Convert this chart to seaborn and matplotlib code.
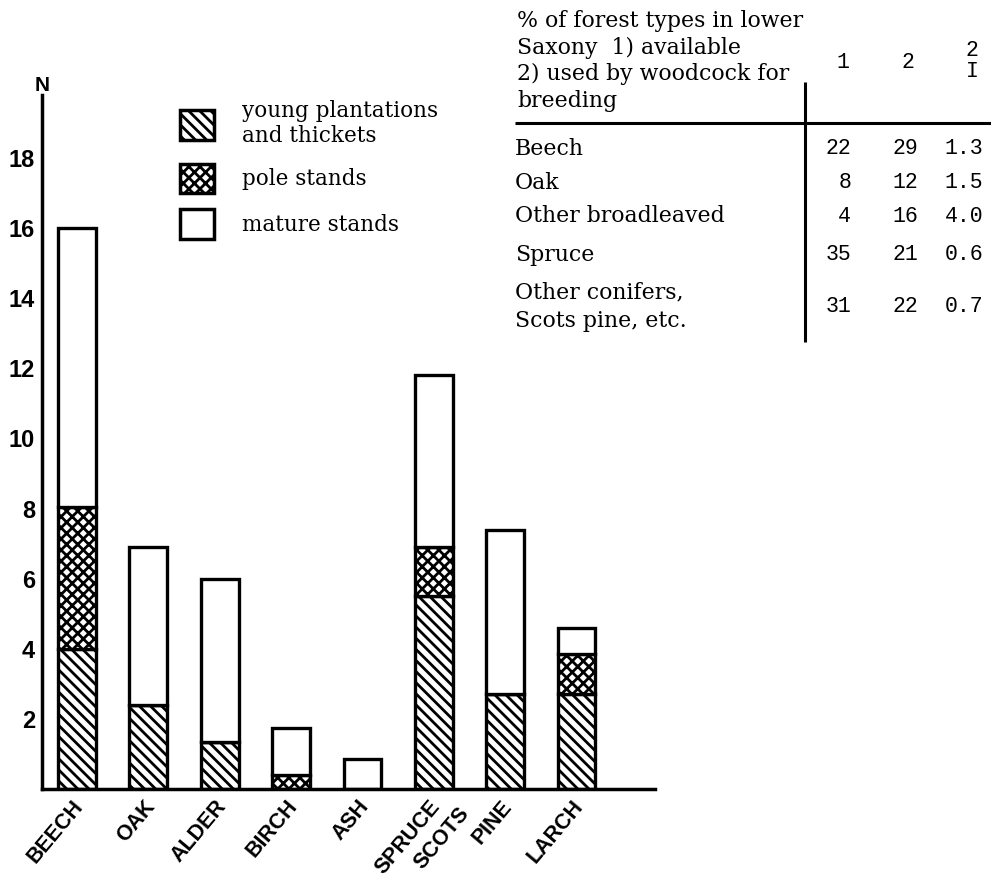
"""Woodcock breeding sites per forest type (stacked bars) with the Lower Saxony table."""

import matplotlib
matplotlib.use("Agg")
import matplotlib.pyplot as plt
import pandas as pd
import seaborn as sns
from matplotlib.patches import Patch
from matplotlib.transforms import ScaledTranslation

# --- data ---
species = ["BEECH", "OAK", "ALDER", "BIRCH", "ASH", "SPRUCE", "PINE", "LARCH"]
species_prefix = {"PINE": "SCOTS"}  # drawn as a second, lower word under the tick label
young = [4.0, 2.4, 1.35, 0.0, 0.0, 5.5, 2.7, 2.7]
pole = [4.05, 0.0, 0.0, 0.4, 0.0, 1.4, 0.0, 1.15]
mature = [7.95, 4.5, 4.65, 1.35, 0.85, 4.9, 4.7, 0.75]
y_ticks = [2, 4, 6, 8, 10, 12, 14, 16, 18]

stand_labels = ["young plantations\nand thickets", "pole stands", "mature stands"]
stand_hatches = ["\\\\\\", "xxx", ""]

table_title = "% of forest types in lower\nSaxony  1) available\n2) used by woodcock for\nbreeding"
forest_types = ["Beech", "Oak", "Other broadleaved", "Spruce", "Other conifers,\nScots pine, etc."]
available = [22, 8, 4, 35, 31]
used = [29, 12, 16, 21, 22]
ratio = [1.3, 1.5, 4.0, 0.6, 0.7]

# layout
label_dx = 2.2      # points
label_pad = 10      # points
label_rot = 50
label_size = 15.5
row_y = [149, 183, 216, 255, 307]   # table rows, pixels from top

sns.set_style("white")
plt.rcParams.update({
    "font.family": ["Liberation Sans", "DejaVu Sans"],
    "hatch.linewidth": 2.0,
    "text.color": "black",
    "axes.edgecolor": "black",
    "xtick.color": "black",
    "ytick.color": "black",
})

fig = plt.figure(figsize=(9.91, 8.83), dpi=100)

# table overlay, laid out in pixel coords (origin top-left)
tab = fig.add_axes([0, 0, 1, 1])
tab.set_xlim(0, 991)
tab.set_ylim(883, 0)
tab.axis("off")
tab.patch.set_alpha(0)

ax = fig.add_axes([42 / 991, 94 / 883, 613 / 991, 694 / 883])
ax.patch.set_alpha(0)

df = pd.DataFrame({"species": species, "young": young, "pole": pole, "mature": mature})
df["pole_base"] = df["young"]
df["mature_base"] = df["young"] + df["pole"]

bar_kw = dict(x="species", color="white", edgecolor="black", linewidth=2.4,
              width=0.53, saturation=1, errorbar=None, ax=ax)
sns.barplot(data=df, y="young", hatch=stand_hatches[0], **bar_kw)
sns.barplot(data=df, y="pole", bottom=df["pole_base"], hatch=stand_hatches[1], **bar_kw)
sns.barplot(data=df, y="mature", bottom=df["mature_base"], hatch=stand_hatches[2], **bar_kw)

ax.set_xlim(-0.49, 8.1)
ax.set_ylim(0, 19.8)
ax.set_xlabel("")
ax.set_ylabel("")
ax.set_yticks(y_ticks)
ax.tick_params(axis="y", direction="out", length=4, width=2, pad=1,
               labelsize=17)
ax.tick_params(axis="x", length=0, pad=label_pad, labelsize=label_size)
for lab in ax.get_yticklabels():
    lab.set_fontweight("bold")
shift = ScaledTranslation(label_dx / 72, 0, fig.dpi_scale_trans)
for lab in ax.get_xticklabels():
    lab.set_fontweight("bold")
    lab.set_rotation(label_rot)
    lab.set_ha("right")
    lab.set_va("center")
    lab.set_rotation_mode("anchor")
    lab.set_transform(lab.get_transform() + shift)

# "SCOTS" sits up-left of "PINE", as in the original lettering
for i, name in enumerate(species):
    if name in species_prefix:
        ax.annotate(species_prefix[name], xy=(i, 0), xycoords=("data", "axes fraction"),
                    xytext=(label_dx - 31, -label_pad - 5), textcoords="offset points",
                    ha="right", va="center", rotation=label_rot, rotation_mode="anchor",
                    fontsize=label_size, fontweight="bold", annotation_clip=False)

sns.despine(ax=ax)
for side in ["left", "bottom"]:
    ax.spines[side].set_linewidth(2.5)
ax.text(0, 1.0, "N", transform=ax.transAxes, ha="center", va="bottom",
        fontsize=15, fontweight="bold")

# legend
handles = [Patch(facecolor="white", edgecolor="black", linewidth=2.5, hatch=h)
           for h in stand_hatches]
ax.legend(handles, stand_labels, loc="upper left",
          bbox_to_anchor=(180 / 991, 1 - 100 / 883), bbox_transform=fig.transFigure,
          frameon=False, borderpad=0, borderaxespad=0,
          handlelength=1.6, handleheight=1.75, handletextpad=1.3,
          labelspacing=0.75, prop={"family": "DejaVu Serif", "size": 15.5})

# table
serif = {"family": "DejaVu Serif", "size": 15.8}
mono = {"family": "Liberation Mono", "size": 15.5}
tab.text(517, 61, table_title, ha="left", va="center", linespacing=1.27, **serif)
tab.text(843, 63, "1", ha="center", va="center", **mono)
tab.text(908, 63, "2", ha="center", va="center", **mono)
tab.text(972, 61, "2\nI", ha="center", va="center", linespacing=1.05, **mono)
tab.plot([515, 991], [123, 123], color="black", lw=2.2, solid_capstyle="butt")
tab.plot([805, 805], [82, 342], color="black", lw=2.2, solid_capstyle="butt")

for name, a, u, r, y in zip(forest_types, available, used, ratio, row_y):
    tab.text(515, y, name, ha="left", va="center", linespacing=1.4, **serif)
    tab.text(851, y, f"{a}", ha="right", va="center", **mono)
    tab.text(918, y, f"{u}", ha="right", va="center", **mono)
    tab.text(983, y, f"{r:.1f}", ha="right", va="center", **mono)

fig.savefig("out.png", dpi=100)
